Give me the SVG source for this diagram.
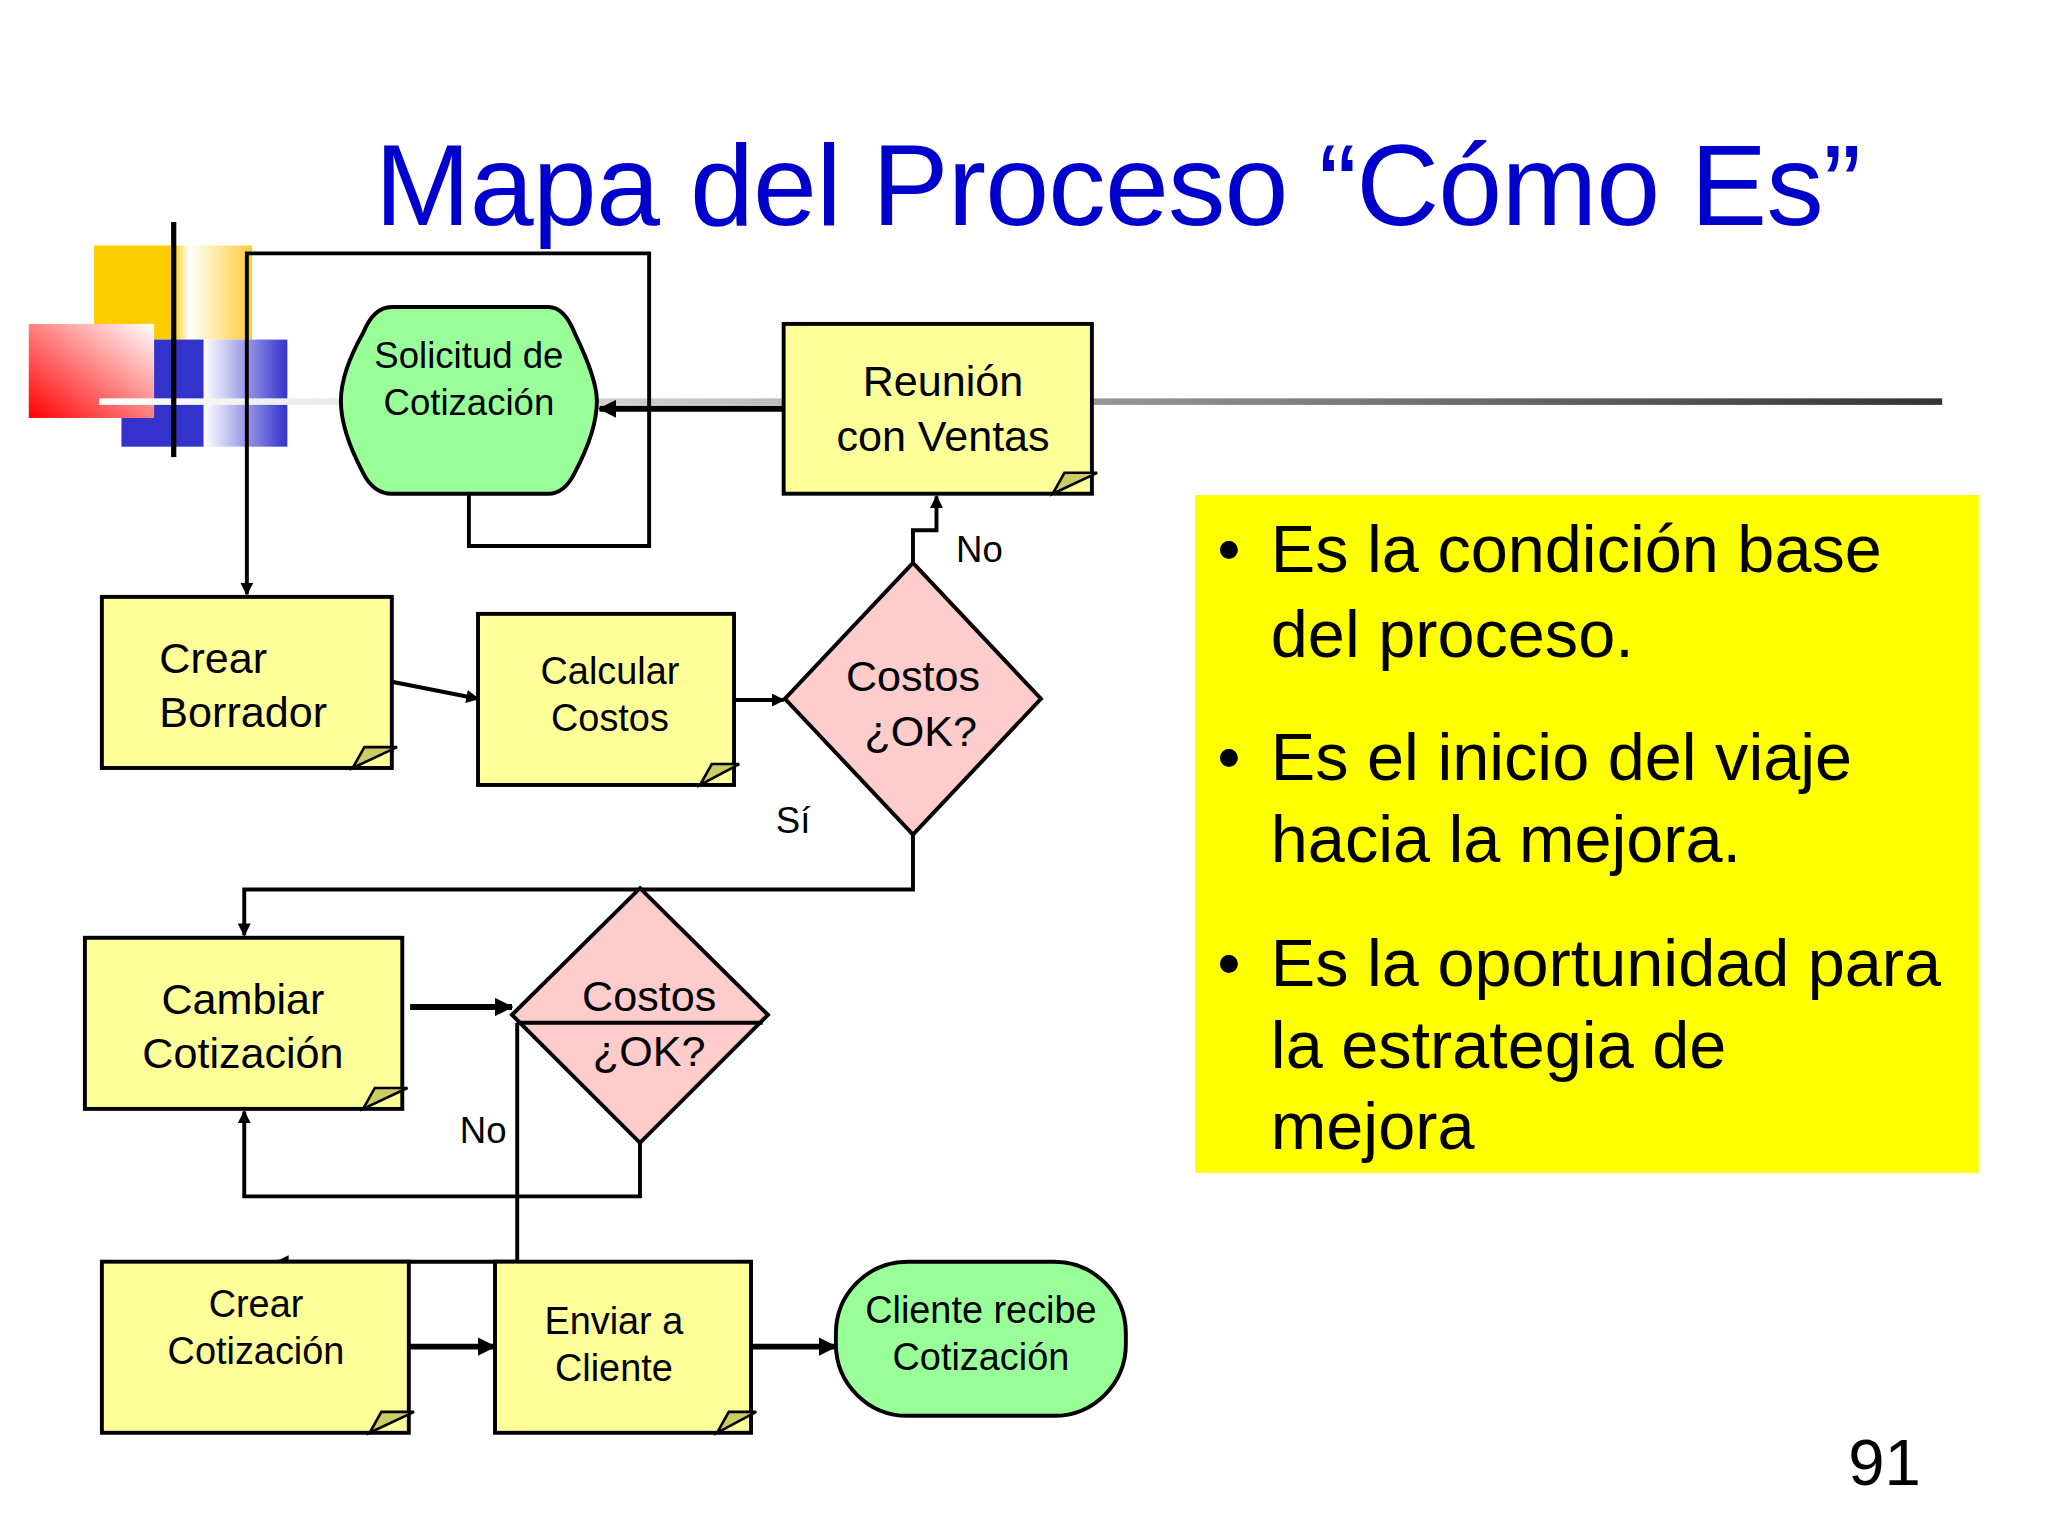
<svg xmlns="http://www.w3.org/2000/svg" width="2048" height="1536" viewBox="0 0 2048 1536">
<style>
.t{font-family:"Liberation Sans",Arial,sans-serif;fill:#000}
.c{text-anchor:middle}
.n{stroke:#000;stroke-width:3}
.ln{fill:none;stroke:#000;stroke-width:3}
.th{fill:none;stroke:#000;stroke-width:4.5}
.fold{fill:#cccc66;stroke:#000;stroke-width:2}
</style>
<defs>
<marker id="a" markerWidth="10" markerHeight="10" refX="9" refY="5" orient="auto" markerUnits="userSpaceOnUse"><path d="M0,0 L10,5 L0,10 Z" fill="#000"/></marker>
<marker id="b" markerWidth="14" markerHeight="14" refX="13" refY="7" orient="auto" markerUnits="userSpaceOnUse"><path d="M0,0 L14,7 L0,14 Z" fill="#000"/></marker>
<linearGradient id="gy" x1="0" x2="1"><stop offset="0.5" stop-color="#ffcc00"/><stop offset="0.6" stop-color="#fff"/><stop offset="1" stop-color="#ffcc33"/></linearGradient>
<linearGradient id="gr" x1="0" y1="1" x2="1" y2="0"><stop offset="0" stop-color="#ff0000"/><stop offset="1" stop-color="#fff"/></linearGradient>
<linearGradient id="gb" x1="0" x2="1"><stop offset="0" stop-color="#fff"/><stop offset="1" stop-color="#3333cc"/></linearGradient>
<linearGradient id="gl" x1="0" x2="1"><stop offset="0" stop-color="#fff"/><stop offset="0.3" stop-color="#ccc"/><stop offset="1" stop-color="#333"/></linearGradient>
</defs>
<rect width="2048" height="1536" fill="#fff"/>
<g transform="scale(1.3061)">
<g id="deco">
<rect x="72" y="188" width="121" height="72" fill="url(#gy)"/>
<rect x="93" y="260" width="63" height="82" fill="#3333cc"/>
<rect x="156" y="260" width="64" height="82" fill="url(#gb)"/>
<rect x="22" y="248" width="96" height="72" fill="url(#gr)"/>
<rect x="76" y="305" width="1411" height="5" fill="url(#gl)"/>
<rect x="131" y="170" width="4" height="180" fill="#000"/>
</g>
<text id="title" class="t" x="287" y="172" font-size="88" textLength="1138" style="fill:#0000cc">Mapa del Proceso “Cómo Es”</text>
<g id="connectors">
<path class="ln" d="M359,378 V418 H497 V194 H189 V455" marker-end="url(#a)"/>
<path class="th" d="M600,313 H459" marker-end="url(#b)"/>
<path class="ln" d="M300,522 L366,535" marker-end="url(#a)"/>
<path class="ln" d="M562,536 H600" marker-end="url(#a)"/>
<path class="ln" d="M699,431 V406 H717 V380" marker-end="url(#a)"/>
<path class="ln" d="M699,639 V681 H187 V716" marker-end="url(#a)"/>
<path class="th" d="M314,771 H392" marker-end="url(#b)"/>
<path class="ln" d="M490,875 V916 H187 V851" marker-end="url(#a)"/>
<path class="ln" d="M396,783 V966 H212" marker-end="url(#a)"/>
<path class="th" d="M313,1031 H379" marker-end="url(#b)"/>
<path class="th" d="M575,1031 H640" marker-end="url(#b)"/>
<text class="t" x="732" y="430" font-size="28">No</text>
<text class="t" x="594" y="638" font-size="28">Sí</text>
<text class="t" x="352" y="875" font-size="28">No</text>
</g>
<g id="solicitud">
<path class="n" fill="#99ff99" d="M300,235 H420 Q432,235 440,255 Q457,290 457,307 Q457,330 440,362 Q432,378 420,378 H300 Q286,378 278,362 Q261,330 261,307 Q261,285 278,255 Q286,235 300,235 Z"/>
<text class="t c" x="359" y="282" font-size="28">Solicitud de</text>
<text class="t c" x="359" y="318" font-size="28">Cotización</text>
</g>
<g id="reunion">
<rect class="n" x="600" y="248" width="236" height="130" fill="#ffff99"/>
<path class="fold" d="M806,378 L815,362 L840,362 Z"/>
<text class="t c" x="722" y="303" font-size="33">Reunión</text>
<text class="t c" x="722" y="345" font-size="33">con Ventas</text>
</g>
<g id="borrador">
<rect class="n" x="78" y="457" width="222" height="131" fill="#ffff99"/>
<path class="fold" d="M270,588 L279,572 L304,572 Z"/>
<text class="t" x="122" y="515" font-size="33">Crear</text>
<text class="t" x="122" y="557" font-size="33">Borrador</text>
</g>
<g id="calcular">
<rect class="n" x="366" y="470" width="196" height="131" fill="#ffff99"/>
<path class="fold" d="M536,601 L545,585 L566,585 Z"/>
<text class="t c" x="467" y="524" font-size="29">Calcular</text>
<text class="t c" x="467" y="560" font-size="29">Costos</text>
</g>
<g id="dec1">
<path class="n" fill="#ffcccc" d="M699,431 L797,535 L699,639 L601,535 Z"/>
<text class="t c" x="699" y="529" font-size="33">Costos</text>
<text class="t c" x="705" y="571" font-size="33">¿OK?</text>
</g>
<g id="cambiar">
<rect class="n" x="65" y="718" width="243" height="131" fill="#ffff99"/>
<path class="fold" d="M278,849 L287,833 L312,833 Z"/>
<text class="t c" x="186" y="776" font-size="33">Cambiar</text>
<text class="t c" x="186" y="818" font-size="33">Cotización</text>
</g>
<g id="dec2">
<path class="n" fill="#ffcccc" d="M490,680 L588,777 L490,875 L392,777 Z"/>
<path class="ln" d="M396,783 H584"/>
<text class="t c" x="497" y="774" font-size="33">Costos</text>
<text class="t c" x="497" y="816" font-size="33">¿OK?</text>
</g>
<g id="crearcot">
<rect class="n" x="78" y="966" width="235" height="131" fill="#ffff99"/>
<path class="fold" d="M283,1097 L292,1081 L317,1081 Z"/>
<text class="t c" x="196" y="1008" font-size="29">Crear</text>
<text class="t c" x="196" y="1044" font-size="29">Cotización</text>
</g>
<g id="enviar">
<rect class="n" x="379" y="966" width="196" height="131" fill="#ffff99"/>
<path class="fold" d="M549,1097 L558,1081 L579,1081 Z"/>
<text class="t c" x="470" y="1021" font-size="29">Enviar a</text>
<text class="t c" x="470" y="1057" font-size="29">Cliente</text>
</g>
<g id="cliente">
<rect class="n" x="640" y="966" width="222" height="118" rx="55" fill="#99ff99"/>
<text class="t c" x="751" y="1013" font-size="29">Cliente recibe</text>
<text class="t c" x="751" y="1049" font-size="29">Cotización</text>
</g>
<g id="notes">
<rect x="915" y="379" width="600" height="519" fill="#ffff00"/>
<g class="t" font-size="51">
<text x="932" y="438">•</text><text x="973" y="438">Es la condición base</text>
<text x="973" y="503">del proceso.</text>
<text x="932" y="597">•</text><text x="973" y="597">Es el inicio del viaje</text>
<text x="973" y="660">hacia la mejora.</text>
<text x="932" y="755">•</text><text x="973" y="755">Es la oportunidad para</text>
<text x="973" y="818">la estrategia de</text>
<text x="973" y="880">mejora</text>
</g>
</g>
<text class="t" x="1415" y="1137" font-size="50">91</text>
</g>
</svg>
